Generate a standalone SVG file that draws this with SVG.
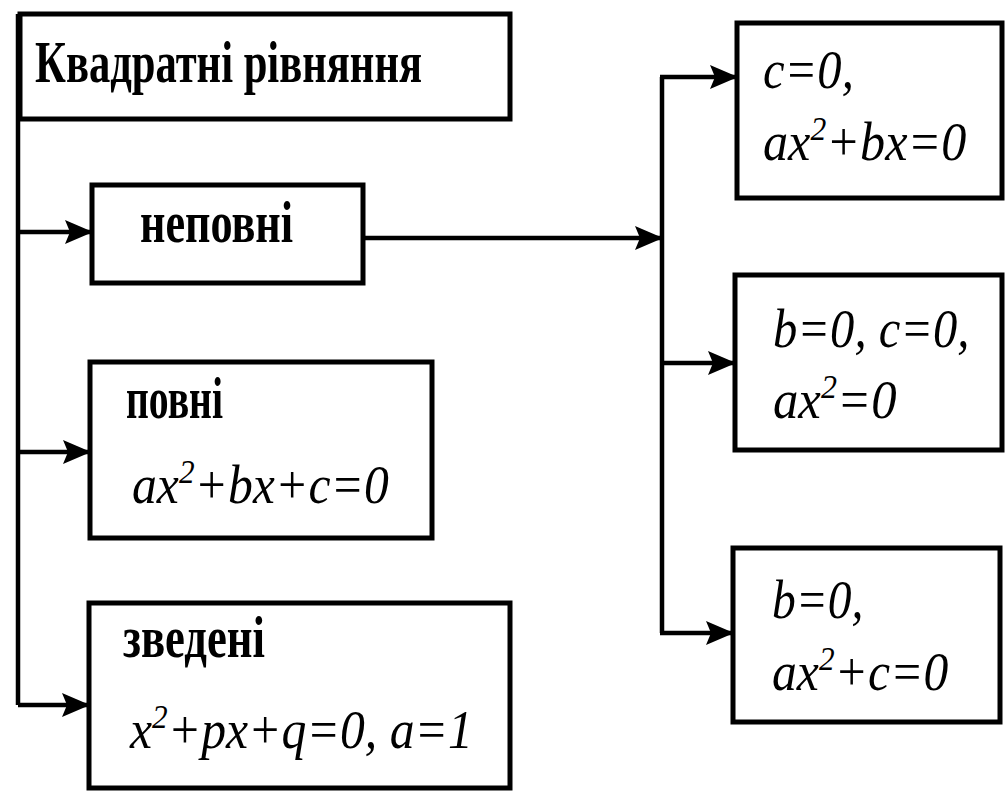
<svg xmlns="http://www.w3.org/2000/svg" width="1005" height="791" viewBox="0 0 1005 791">
<style>
.box{fill:#fff;stroke:#000;stroke-width:5}
.ln{fill:none;stroke:#000;stroke-width:4.5}
.lab{font-family:"Liberation Serif","DejaVu Serif",serif;font-weight:bold;font-size:60px;fill:#000}
.m{font-family:"Liberation Serif","DejaVu Serif",serif;font-style:italic;font-size:54px;fill:#000}
.s{font-size:34px}
</style>
<defs>
<marker id="ar" viewBox="0 0 28 24" refX="27" refY="12" markerWidth="28" markerHeight="24" markerUnits="userSpaceOnUse" orient="auto">
<path d="M0,0 L28,12 L0,24 L5,12 Z" fill="#000"/>
</marker>
</defs>
<rect width="1005" height="791" fill="#fff"/>
<g id="connectors">
<path class="ln" d="M18,14 V705"/>
<path class="ln" d="M18,232 H92" marker-end="url(#ar)"/>
<path class="ln" d="M18,452 H90" marker-end="url(#ar)"/>
<path class="ln" d="M18,705 H89" marker-end="url(#ar)"/>
<path class="ln" d="M363,238 H662" marker-end="url(#ar)"/>
<path class="ln" d="M662,77 V633"/>
<path class="ln" d="M660,77 H737" marker-end="url(#ar)"/>
<path class="ln" d="M662,363 H735" marker-end="url(#ar)"/>
<path class="ln" d="M660,633 H733" marker-end="url(#ar)"/>
</g>
<g id="title">
<rect class="box" x="20" y="14" width="490" height="105"/>
<text class="lab" x="35" y="82" textLength="387" lengthAdjust="spacingAndGlyphs">Квадратні рівняння</text>
</g>
<g id="nepovni">
<rect class="box" x="92" y="185" width="271" height="98"/>
<text class="lab" x="140" y="242" textLength="153" lengthAdjust="spacingAndGlyphs">неповні</text>
</g>
<g id="povni">
<rect class="box" x="90" y="362" width="342" height="176"/>
<text class="lab" x="126" y="418" textLength="97" lengthAdjust="spacingAndGlyphs">повні</text>
<text class="m" transform="translate(132,503) scale(0.92,1)">ax<tspan class="s" dy="-20">2</tspan><tspan dy="20">+bx+c=0</tspan></text>
</g>
<g id="zvedeni">
<rect class="box" x="89" y="603" width="421" height="185"/>
<text class="lab" x="123" y="657" textLength="142" lengthAdjust="spacingAndGlyphs">зведені</text>
<text class="m" transform="translate(130,748) scale(0.92,1)">x<tspan class="s" dy="-20">2</tspan><tspan dy="20">+px+q=0,  a=1</tspan></text>
</g>
<g id="case1">
<rect class="box" x="737" y="23" width="265" height="175"/>
<text class="m" transform="translate(763,88) scale(0.9,1)">c=0,</text>
<text class="m" transform="translate(763,160) scale(0.93,1)">ax<tspan class="s" dy="-20">2</tspan><tspan dy="20">+bx=0</tspan></text>
</g>
<g id="case2">
<rect class="box" x="735" y="275" width="267" height="175"/>
<text class="m" transform="translate(773,347) scale(0.9,1)">b=0, c=0,</text>
<text class="m" transform="translate(773,418) scale(0.94,1)">ax<tspan class="s" dy="-20">2</tspan><tspan dy="20">=0</tspan></text>
</g>
<g id="case3">
<rect class="box" x="733" y="548" width="267" height="174"/>
<text class="m" transform="translate(772,618) scale(0.88,1)">b=0,</text>
<text class="m" transform="translate(772,690) scale(0.92,1)">ax<tspan class="s" dy="-20">2</tspan><tspan dy="20">+c=0</tspan></text>
</g>
</svg>
